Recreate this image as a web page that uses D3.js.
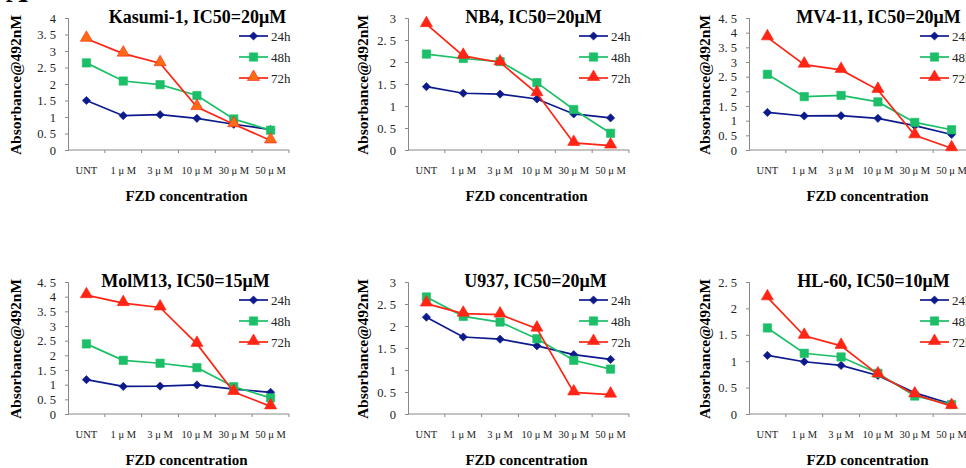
<!DOCTYPE html>
<html>
<head>
<meta charset="utf-8">
<script src="https://cdn.jsdelivr.net/npm/d3@7"></script>
<style>
body{margin:0;background:#fff;}
svg{display:block;}
</style>
</head>
<body>
<div id="chart"></div>
<script>
// dose levels on the x axis, as printed
var doses = ["UNT","1 μ M","3 μ M","10 μ M","30 μ M","50 μ M"];
var times = ["24h","48h","72h"];
var cellLines = ["Kasumi-1","NB4","MV4-11","MolM13","U937","HL-60"];
var ic50 = [20,20,20,15,20,10];
var yMax = [4,3,4.5,4.5,3,2.5];

// absorbance per cell line: rows are 24h, 48h, 72h
var kasumi1 = [[1.50,1.04,1.07,0.96,0.78,0.62],
               [2.64,2.09,1.98,1.65,0.94,0.60],
               [3.37,2.92,2.63,1.30,0.78,0.29]];
var nb4     = [[1.44,1.29,1.27,1.16,0.82,0.73],
               [2.18,2.08,2.01,1.53,0.92,0.38],
               [2.86,2.14,1.99,1.29,0.16,0.10]];
var mv411   = [[1.28,1.16,1.17,1.08,0.83,0.53],
               [2.58,1.82,1.86,1.64,0.94,0.69],
               [3.84,2.91,2.73,2.05,0.50,0.06]];
var molm13  = [[1.17,0.94,0.95,0.99,0.85,0.74],
               [2.39,1.83,1.73,1.58,0.93,0.55],
               [4.05,3.78,3.63,2.39,0.75,0.26]];
var u937    = [[2.20,1.75,1.70,1.55,1.35,1.24],
               [2.66,2.22,2.09,1.71,1.22,1.02],
               [2.51,2.28,2.26,1.94,0.49,0.44]];
var hl60    = [[1.11,0.99,0.92,0.73,0.40,0.19],
               [1.63,1.15,1.08,0.77,0.34,0.18],
               [2.21,1.48,1.29,0.75,0.37,0.15]];
var allData = [kasumi1,nb4,mv411,molm13,u937,hl60];

var lineColors = ["#0d1a8c","#1cbf68","#ff2414"];
var width = 966, height = 468;
var cols = [68,408,749], rows = [[18,150],[282,414]], plotW = 221;
var titleDx = [19,15,19,7,17,14];
var yLabelDx = [-53,-46,-45];
var serif = "Liberation Serif, DejaVu Serif, serif";

var svg = d3.select("#chart").append("svg")
    .attr("width",width).attr("height",height);

// cropped panel letter in the corner
svg.append("text")
    .attr("x",6).attr("y",2)
    .attr("font-family",serif).attr("font-weight","bold")
    .attr("font-size",30).text("A");

// diamond = square turned 45 degrees
var diamond = function(){ return d3.symbol().type(d3.symbolSquare).size(34)(); };
var square = function(){ return d3.symbol().type(d3.symbolSquare).size(70)(); };
var triangle = function(){ return d3.symbol().type(d3.symbolTriangle).size(64)(); };
var shapes = [diamond,square,triangle];
var shapeRot = [45,0,0];

allData.forEach(function(data,p){
    var x0 = cols[p%3], top = rows[Math.floor(p/3)][0], bottom = rows[Math.floor(p/3)][1];
    var g = svg.append("g");

    var xScale = d3.scaleBand().domain(doses).range([x0,x0+plotW]);
    var yScale = d3.scaleLinear().domain([0,yMax[p]]).range([bottom,top]);

    // y axis
    var yAxis = d3.axisLeft(yScale)
        .tickValues(d3.range(0,yMax[p]+0.01,0.5))
        .tickSize(3).tickPadding(9)
        .tickFormat(function(d){return String(d).replace(".",". ");});
    var ya = g.append("g").attr("transform","translate("+x0+",0)").call(yAxis);
    ya.select(".domain").attr("stroke","#888");
    ya.selectAll(".tick line").attr("stroke","#888");
    ya.selectAll("text").attr("font-family",serif).attr("font-size",12.5).attr("fill","#222");

    // x axis, ticks at the band edges
    var edges = doses.map(function(d){return xScale(d);}).concat([x0+plotW]);
    var xa = g.append("g");
    xa.append("line").attr("x1",x0).attr("x2",x0+plotW).attr("y1",bottom).attr("y2",bottom)
        .attr("stroke","#888");
    xa.selectAll(".xt").data(edges.slice(1)).enter().append("line")
        .attr("x1",function(d){return d;}).attr("x2",function(d){return d;})
        .attr("y1",bottom).attr("y2",bottom+3).attr("stroke","#888");
    xa.selectAll(".xl").data(doses).enter().append("text")
        .attr("x",function(d){return xScale(d)+xScale.bandwidth()/2;})
        .attr("y",bottom+24)
        .attr("text-anchor","middle")
        .attr("font-family",serif).attr("font-size",10.5).attr("fill","#222")
        .text(function(d){return d;});

    // axis titles
    g.append("text")
        .attr("transform","translate("+(x0+yLabelDx[p%3])+","+((top+bottom)/2+1)+") rotate(-90)")
        .attr("text-anchor","middle").attr("dominant-baseline","central")
        .attr("font-family",serif).attr("font-weight","bold").attr("font-size",15.5)
        .text("Absorbance@492nM");
    g.append("text")
        .attr("x",x0+plotW/2+8).attr("y",bottom+51)
        .attr("text-anchor","middle")
        .attr("font-family",serif).attr("font-weight","bold").attr("font-size",15)
        .text("FZD concentration");
    g.append("text")
        .attr("x",x0+plotW/2+titleDx[p]).attr("y",top+5)
        .attr("text-anchor","middle")
        .attr("font-family",serif).attr("font-weight","bold").attr("font-size",18)
        .text(cellLines[p]+", IC50="+ic50[p]+"μM");

    var line = d3.line()
        .x(function(d,i){return xScale(doses[i])+xScale.bandwidth()/2;})
        .y(function(d){return yScale(d);});

    data.forEach(function(vals,s){
        var fill = (p==0 && s==2) ? "#ff6a14" : lineColors[s];
        g.append("path").datum(vals)
            .attr("fill","none").attr("stroke",lineColors[s]).attr("stroke-width",1.7)
            .attr("d",line);
        g.selectAll(".m"+s).data(vals).enter().append("path")
            .attr("transform",function(d,i){
                return "translate("+line.x()(d,i)+","+(yScale(d)-(s==2?1:0))+") rotate("+shapeRot[s]+")";})
            .attr("d",shapes[s]())
            .attr("fill",fill).attr("stroke",lineColors[s]).attr("stroke-width",0.6);

        // legend
        var lx = x0+171, ly = top+18+s*21;
        g.append("line").attr("x1",lx).attr("x2",lx+29).attr("y1",ly).attr("y2",ly)
            .attr("stroke",lineColors[s]).attr("stroke-width",1.7);
        g.append("path")
            .attr("transform","translate("+(lx+14.5)+","+(ly-(s==2?1:0))+") rotate("+shapeRot[s]+")")
            .attr("d",shapes[s]()).attr("fill",fill).attr("stroke",lineColors[s]).attr("stroke-width",0.6);
        g.append("text").attr("x",lx+32).attr("y",ly+4.5)
            .attr("font-family",serif).attr("font-size",13).attr("fill","#222")
            .text(times[s]);
    });
});
</script>
</body>
</html>
